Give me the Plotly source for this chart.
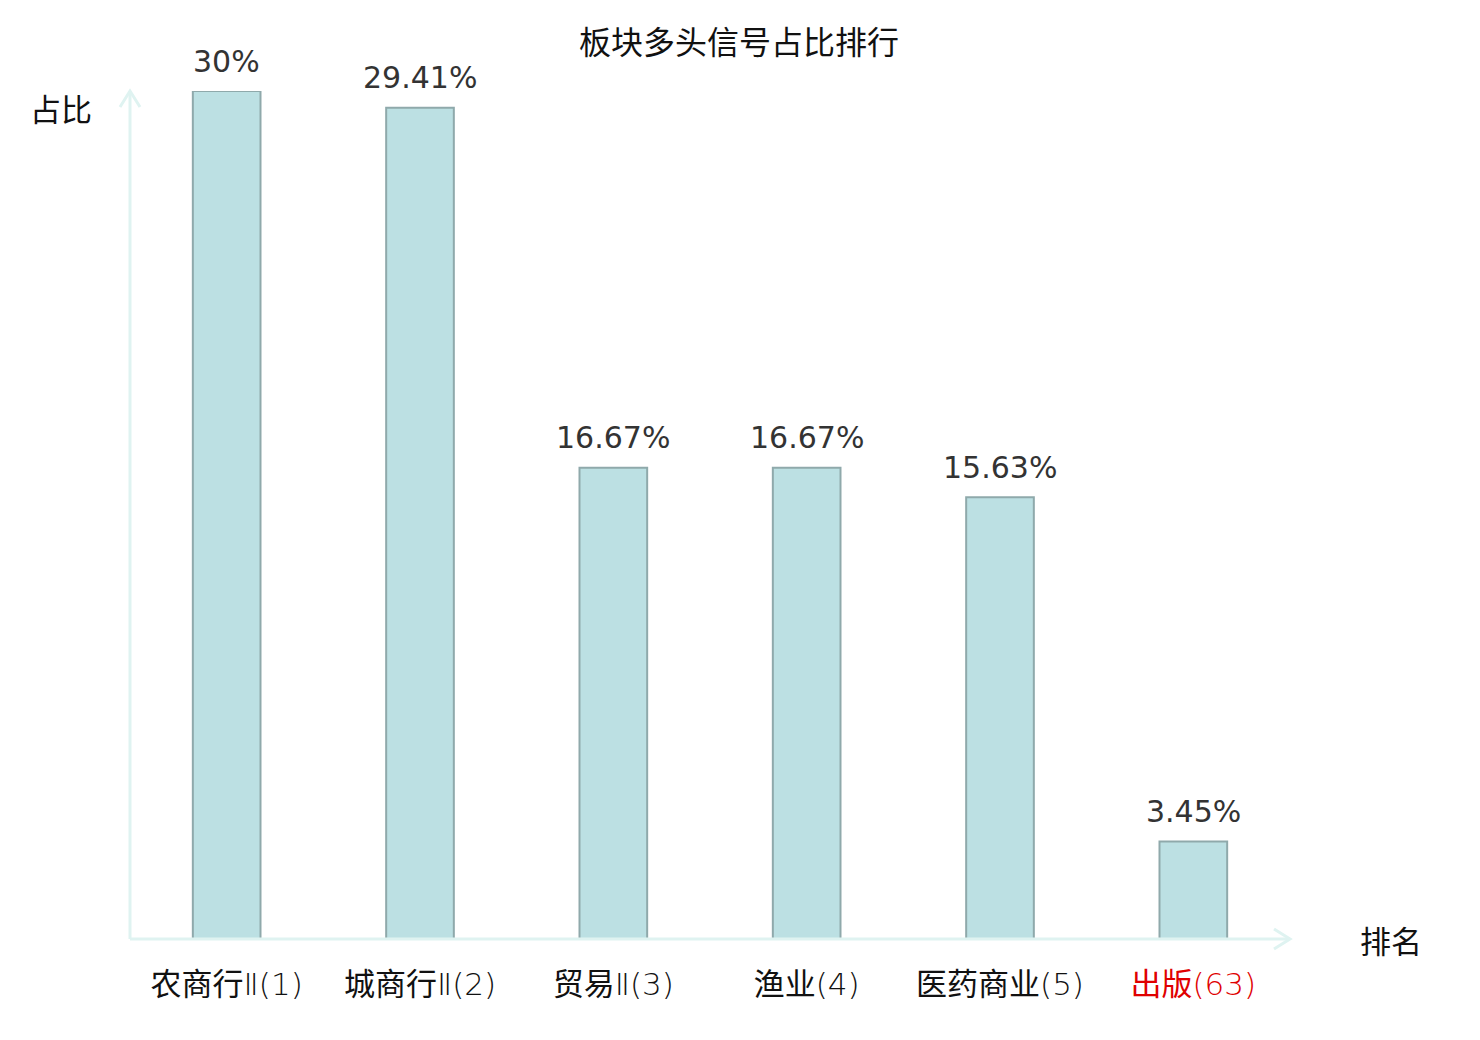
import plotly.graph_objects as go

# data
sectors = ["农商行Ⅱ", "城商行Ⅱ", "贸易Ⅱ", "渔业", "医药商业", "出版"]
ranks = [1, 2, 3, 4, 5, 63]
ratios = [30, 29.41, 16.67, 16.67, 15.63, 3.45]
value_text = ["30%", "29.41%", "16.67%", "16.67%", "15.63%", "3.45%"]

axis_col = "#dff3f1"
cjk = "Noto Sans CJK SC"
light = "<span style='font-family:\"DejaVu Sans ExtraLight\", \"DejaVu Sans\";font-weight:200'>%s</span>"

ticktext = []
for s, r in zip(sectors, ranks):
    name = s.replace("Ⅱ", light % "Ⅱ")
    lab = name + light % ("(%d)" % r)
    if r > 5:
        lab = "<span style='color:#e00000'>%s</span>" % lab
    ticktext.append(lab)

xs = list(range(len(sectors)))

fig = go.Figure()
fig.add_trace(go.Bar(
    x=xs, y=ratios,
    width=0.35,
    marker=dict(color="#bce0e3", line=dict(color="#8fa9ab", width=2)),
))

# value labels above the bars
for x, v, t in zip(xs, ratios, value_text):
    fig.add_annotation(x=x, y=v, text=t, showarrow=False,
                       yanchor="middle", yshift=30,
                       font=dict(family="DejaVu Sans", size=30, color="#333333"))

fig.update_layout(
    width=1480, height=1040,
    margin=dict(l=122, r=198, t=83, b=109),
    plot_bgcolor="white", paper_bgcolor="white",
    showlegend=False,
    title=dict(text="板块多头信号占比排行", x=0.494, xanchor="center",
               y=0.967, yanchor="middle",
               font=dict(family=cjk, size=32, color="#111111")),
    xaxis=dict(range=[-0.5, 5.5], tickmode="array",
               tickvals=xs, ticktext=ticktext,
               showgrid=False, zeroline=False, showline=False,
               ticks="outside", ticklen=18, tickcolor="rgba(0,0,0,0)",
               tickfont=dict(family=cjk, size=31, color="#111111")),
    yaxis=dict(range=[0, 30], showgrid=False, zeroline=False,
               showline=False, showticklabels=False),
)

# axes drawn as arrows
fig.add_shape(type="line", xref="paper", yref="paper", x0=0, y0=0, x1=1, y1=0,
              line=dict(color=axis_col, width=3))
fig.add_shape(type="line", xref="paper", yref="paper", x0=0, y0=0, x1=0, y1=1,
              line=dict(color=axis_col, width=3))
fig.add_shape(type="path", xref="paper", yref="paper",
              xsizemode="pixel", ysizemode="pixel", xanchor=1, yanchor=0,
              path="M -16 10 L 0 0 L -16 -10",
              line=dict(color=axis_col, width=3))
fig.add_shape(type="path", xref="paper", yref="paper",
              xsizemode="pixel", ysizemode="pixel", xanchor=0, yanchor=1,
              path="M -10 -16 L 0 0 L 10 -16",
              line=dict(color=axis_col, width=3))

fig.add_annotation(text="占比", xref="paper", yref="paper", x=-0.031, y=0.98,
                   xanchor="right", yanchor="middle", showarrow=False,
                   font=dict(family=cjk, size=31, color="#111111"))
fig.add_annotation(text="排名", xref="paper", yref="paper", x=1.059, y=0.0,
                   xanchor="left", yanchor="middle", showarrow=False,
                   font=dict(family=cjk, size=31, color="#111111"))

fig.write_html("out.html")
